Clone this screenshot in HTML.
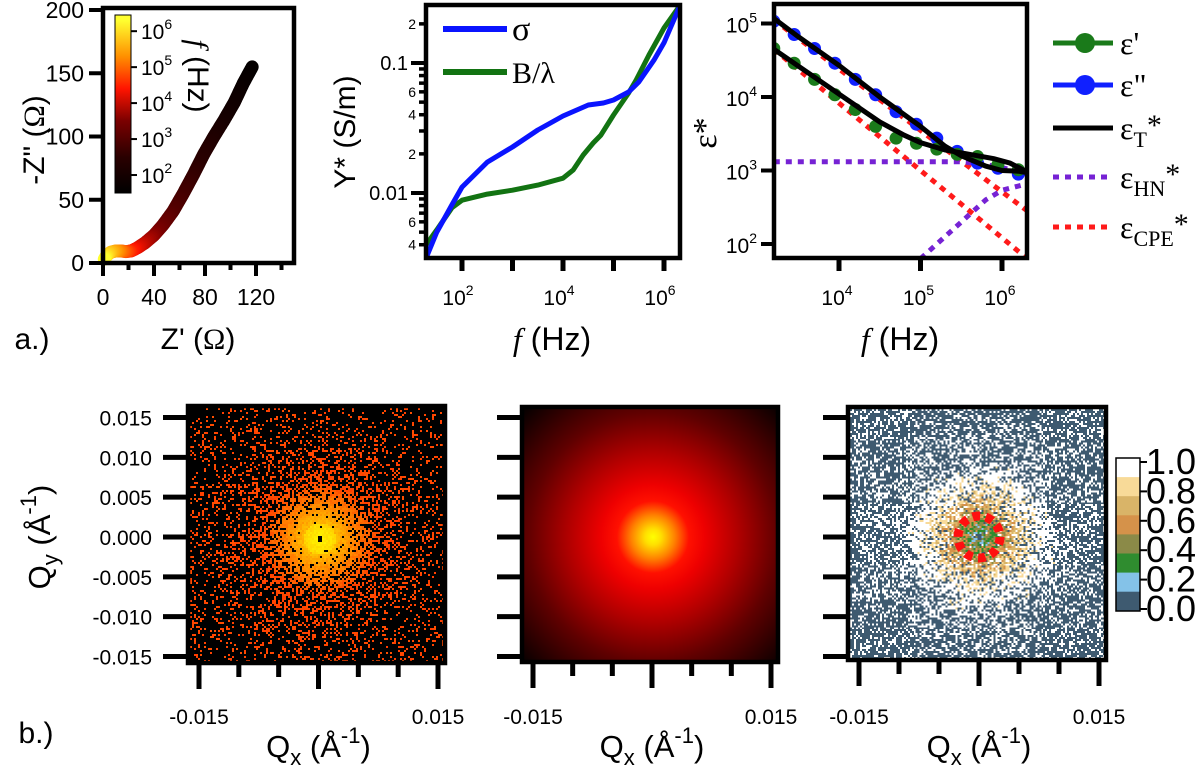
<!DOCTYPE html>
<html><head><meta charset="utf-8">
<style>
html,body{margin:0;padding:0;background:#fff;}
#wrap{position:relative;width:1200px;height:766px;overflow:hidden;background:#fff;}
svg{position:absolute;left:0;top:0;}
canvas{position:absolute;image-rendering:pixelated;}
#b2grad{position:absolute;left:524px;top:409px;width:253px;height:252px;
background:radial-gradient(circle at 129px 128px,#ffff00 0px,#ffe000 8px,#ff8000 22px,#ff1000 36px,#ee0000 52px,#b00000 85px,#600000 125px,#180000 170px,#000 185px);}
</style></head>
<body>
<div id="wrap">
<canvas id="b1c" width="127" height="127" style="left:190px;top:408px;width:254px;height:254px"></canvas>
<div id="b2grad"></div>
<canvas id="b3c" width="128" height="126" style="left:850px;top:409px;width:255px;height:250px"></canvas>
<svg id="fig" width="1200" height="766" viewBox="0 0 1200 766"></svg>
</div>
<script>
// ---------- DATA ----------
const nyqRe=[1,3,6,10,14,18,22,27,33,40,47,55,63,71,79,87,95,103,110,117];
const nyqIm=[3,6,8.5,9.5,9.5,9,9.5,12,16,22,30,41,55,70,86,100,113,127,142,155];
const nyqLogF=[6.3,6.0,5.7,5.4,5.1,4.8,4.5,4.2,3.9,3.6,3.3,3.0,2.8,2.6,2.4,2.2,2.0,1.85,1.7,1.6];
const nyqXTicks=[0,40,80,120];
const nyqYTicks=[0,50,100,150,200];
const cbarLabels=[6,5,4,3,2];

const sigmaLogF=[1.29,1.5,1.8,2.0,2.5,3.0,3.5,4.0,4.5,4.8,5.0,5.3,5.5,5.8,6.0,6.32];
const sigmaVal=[0.00316,0.0050,0.0081,0.0111,0.0173,0.0226,0.0305,0.0391,0.0475,0.0492,0.0519,0.0598,0.0714,0.105,0.143,0.279];
const bLogF=[1.29,1.5,1.8,2.0,2.5,3.0,3.5,4.0,4.2,4.4,4.6,4.75,5.0,5.3,5.45,5.7,6.0,6.32];
const bVal=[0.0040,0.0052,0.0077,0.0088,0.0098,0.0105,0.0115,0.0130,0.0150,0.0196,0.0243,0.0279,0.0398,0.0588,0.0740,0.115,0.186,0.279];
const yDecadeTicks=[-3,-2,-1];
const xDecadeTicks=[2,3,4,5,6];

const epsLogF=[3.2,3.45,3.7,3.95,4.2,4.45,4.7,4.95,5.2,5.45,5.7,5.95,6.2];
const eps2Log=[5.03,4.85,4.66,4.46,4.24,4.03,3.80,3.63,3.44,3.26,3.10,3.03,2.95];
const eps1Log=[4.66,4.46,4.24,4.03,3.83,3.60,3.44,3.37,3.29,3.22,3.19,3.08,3.01];
const fit2LogF=[3.2,3.5,4.0,4.5,5.0,5.3,5.5,5.8,6.0,6.2,6.31];
const fit2Log=[5.07,4.82,4.43,4.0,3.6,3.33,3.2,3.06,3.0,2.99,2.97];
const fit1LogF=[3.2,3.5,4.0,4.5,4.8,5.0,5.3,5.6,5.9,6.1,6.31];
const fit1Log=[4.65,4.42,4.04,3.66,3.48,3.38,3.28,3.22,3.16,3.1,2.98];
const hn1LogF=[3.2,5.5,5.8,6.0,6.31];
const hn1Log=[3.12,3.12,3.08,3.04,2.95];
const hn2LogF=[5.0,5.5,5.8,6.0,6.31];
const hn2Log=[1.8,2.3,2.6,2.73,2.82];
const cpe1LogF=[3.2,6.31];
const cpe1Log=[4.65,1.8];
const cpe2LogF=[3.2,6.31];
const cpe2Log=[5.05,2.45];
const epsYTicks=[2,3,4,5];
const epsXTicks=[4,5,6];

const qTicks=[-0.015,-0.010,-0.005,0.000,0.005,0.010,0.015];
const b1RadBins=[0,3,6,10,15,20,25,30,40,50,64,90];
const b1Density=[1,1,0.98,0.95,0.85,0.72,0.58,0.45,0.3,0.22,0.16,0.13];
const b3RadBins=[0,2,5,8,12,16,20,24,28,32,40,64,90];
const b3Colored=[0.3,0.9,0.95,0.92,0.85,0.7,0.55,0.35,0.15,0.05,0,0,0];
const b3White=[0,0.05,0.05,0.05,0.1,0.2,0.3,0.45,0.65,0.7,0.45,0.3,0.3];
const ratioBands=['#ffffff','#f8da98','#d9b468','#d5924a','#8b8a48','#2f8c2f','#84c2e8','#3e5a70'];
const ratioLabels=['1.0','0.8','0.6','0.4','0.2','0.0'];

// ---------- HELPERS ----------
const NS='http://www.w3.org/2000/svg';
const svg=document.getElementById('fig');
function mk(tag,a,parent){const e=document.createElementNS(NS,tag);for(const k in a)e.setAttribute(k,a[k]);(parent||svg).appendChild(e);return e;}
function txt(x,y,s,size,anchor,parent,family){const t=mk('text',{x:x,y:y,'font-size':size,'text-anchor':anchor||'middle','font-family':family||'Liberation Sans, sans-serif',fill:'#000'},parent);t.textContent=s;return t;}
function ts(t,s,attrs){const e=document.createElementNS(NS,'tspan');for(const k in attrs)e.setAttribute(k,attrs[k]);e.textContent=s;t.appendChild(e);return e;}
function interp(xs,ys,x){if(x<=xs[0])return ys[0];for(let i=1;i<xs.length;i++){if(x<=xs[i]){const f=(x-xs[i-1])/(xs[i]-xs[i-1]);return ys[i-1]+f*(ys[i]-ys[i-1]);}}return ys[ys.length-1];}
function hexToRgb(h){return [parseInt(h.substr(1,2),16),parseInt(h.substr(3,2),16),parseInt(h.substr(5,2),16)];}
function frame(x,y,w,h,name){const r=mk('rect',{x:x,y:y,width:w,height:h,fill:'none',stroke:'#000','stroke-width':4.5});return r;}
function line(x1,y1,x2,y2,w,name){const l=mk('line',{x1:x1,y1:y1,x2:x2,y2:y2,stroke:'#000','stroke-width':w});return l;}

// ---------- PANEL a1: Nyquist ----------
const nx=v=>103+v*51/40, ny=v=>263-v*1.265;
const cStops=[[1.5,'#000000'],[2.5,'#2a0000'],[3.5,'#7a0000'],[4.4,'#ff1400'],[5.3,'#ff9000'],[6.3,'#ffff30']];
function cmap(lf){for(let i=1;i<cStops.length;i++){if(lf<=cStops[i][0]||i==cStops.length-1){const a=hexToRgb(cStops[i-1][1]),b=hexToRgb(cStops[i][1]);let f=(lf-cStops[i-1][0])/(cStops[i][0]-cStops[i-1][0]);f=Math.max(0,Math.min(1,f));return 'rgb('+a.map((v,k)=>Math.round(v+f*(b[k]-v))).join(',')+')';}}}
const gA=mk('g',{});
const gCurve=mk('g',{},gA);
for(let i=nyqRe.length-1;i>0;i--){
  const x0=nx(nyqRe[i]),y0=ny(nyqIm[i]),x1=nx(nyqRe[i-1]),y1=ny(nyqIm[i-1]);
  const n=Math.max(2,Math.ceil(Math.hypot(x1-x0,y1-y0)/1.5));
  for(let k=0;k<n;k++){const f=k/n;const c=mk('circle',{cx:x0+(x1-x0)*f,cy:y0+(y1-y0)*f,r:6.5,fill:cmap(nyqLogF[i]+(nyqLogF[i-1]-nyqLogF[i])*f)},gCurve);}
}
{const c=mk('circle',{cx:nx(nyqRe[0]),cy:ny(nyqIm[0]),r:6.5,fill:cmap(nyqLogF[0])},gCurve);}
frame(103,8,191,255,'nyquist-frame');
nyqYTicks.forEach(v=>{line(89,ny(v),103,ny(v),4,'y-tick');const t=txt(84,ny(v)+8,String(v),23,'end',gA);});
for(let v=0;v<=140;v+=20){const major=v%40==0;line(nx(v),263,nx(v),major?276:270,4,'x-tick');}
nyqXTicks.forEach(v=>{const t=txt(nx(v),305,String(v),23,'middle',gA);});
{const t=txt(198,349,"Z' (",30,'middle',gA);ts(t,'Ω',{'font-family':'Liberation Serif, serif'});ts(t,')',{});}
{const t=txt(0,0,'-Z" (',30,'middle',gA);ts(t,'Ω',{'font-family':'Liberation Serif, serif'});ts(t,')',{});t.setAttribute('transform','translate(44,140) rotate(-90)');}
{const t=txt(32,349,'a.)',30,'middle',gA);}
// colorbar
const defs=mk('defs',{});
const lg=mk('linearGradient',{id:'cbg',x1:0,y1:1,x2:0,y2:0},defs);
const cbLo=1.5,cbHi=6.45;
cStops.forEach(s=>mk('stop',{offset:((s[0]-cbLo)/(cbHi-cbLo)).toFixed(3),'stop-color':s[1]},lg));
{const r=mk('rect',{x:115,y:15,width:16,height:178,fill:'url(#cbg)',stroke:'#000','stroke-width':1},gA);}
const cby=lf=>193-(lf-cbLo)/(cbHi-cbLo)*178;
cbarLabels.forEach(p=>{line(131,cby(p),137,cby(p),2,'colorbar-tick');const t=txt(141,cby(p)+8,'10',21,'start',gA);ts(t,String(p),{'font-size':14,dy:-10});});
{const t=txt(0,0,'',30,'middle',gA);ts(t,'f',{'font-style':'italic','font-family':'Liberation Serif, serif'});ts(t,' (Hz)',{});t.setAttribute('transform','translate(188,76) rotate(90)');}

// ---------- PANEL a2: Y* ----------
const px2=lf=>462+(lf-2)*50.5, py2=v=>193-(Math.log10(v)+2)*130;
const gB=mk('g',{});
const cp2=mk('clipPath',{id:'cp2'},defs);mk('rect',{x:426,y:5,width:254,height:253},cp2);
function pathD(xs,ys,fx,fy){return xs.map((x,i)=>(i?'L':'M')+fx(x).toFixed(1)+','+fy(ys[i]).toFixed(1)).join('');}
{const p=mk('path',{d:pathD(bLogF,bVal,px2,py2),fill:'none',stroke:'#127312','stroke-width':5,'stroke-linejoin':'round','clip-path':'url(#cp2)'},gB);}
{const p=mk('path',{d:pathD(sigmaLogF,sigmaVal,px2,py2),fill:'none',stroke:'#0a14ff','stroke-width':5,'stroke-linejoin':'round','clip-path':'url(#cp2)'},gB);}
frame(426,5,254,253,'admittance-frame');
yDecadeTicks.forEach(d=>{
  for(let m=1;m<=9;m++){const v=m*Math.pow(10,d);const y=py2(v);if(y<5||y>258)continue;
    line(m==1?411:419,y,426,y,m==1?4:3.5,'y-tick');
    let lab=null,sz=14;
    if(m==1){lab=(d==-1?'0.1':d==-2?'0.01':'');sz=20;}
    else if((m==2||m==4||m==6)){lab=String(m);}
    if(lab){const t=txt(m==1?408:416,y+(m==1?7:5),lab,sz,'end',gB);}
  }});
xDecadeTicks.forEach(d=>{line(px2(d),258,px2(d),271,5,'x-tick');if(d%2==0){const t=txt(px2(d)-4,305,'10',21,'middle',gB);ts(t,String(d),{'font-size':14,dy:-10});}});
{const t=txt(552,350,'',32,'middle',gB);ts(t,'f',{'font-style':'italic','font-family':'Liberation Serif, serif'});ts(t,' (Hz)',{});}
{const t=txt(0,0,'Y* (S/m)',30,'middle',gB);t.setAttribute('transform','translate(355,132) rotate(-90)');}
line(443,29,507,29,6,'legend-sigma-swatch').setAttribute('stroke','#0a14ff');
line(443,72,507,72,6,'legend-b-swatch').setAttribute('stroke','#127312');
{const t=txt(512,40,'σ',34,'start',gB,'Liberation Serif, serif');}
{const t=txt(512,83,'B/λ',30,'start',gB,'Liberation Serif, serif');}

// ---------- PANEL a3: permittivity ----------
const px3=lf=>839+(lf-4)*81.5, py3=l=>97-(l-4)*73.5;
const gC=mk('g',{});
const cp3=mk('clipPath',{id:'cp3'},defs);mk('rect',{x:774,y:4,width:253,height:254},cp3);
function dotted(xs,ys,col,name){const p=mk('path',{d:pathD(xs,ys,px3,py3),fill:'none',stroke:col,'stroke-width':5,'stroke-dasharray':'6 6','clip-path':'url(#cp3)'},gC);}
dotted(cpe1LogF,cpe1Log,'#ff1a1a','cpe-real-line');
dotted(cpe2LogF,cpe2Log,'#ff1a1a','cpe-imag-line');
dotted(hn1LogF,hn1Log,'#7622d4','hn-real-line');
dotted(hn2LogF,hn2Log,'#7622d4','hn-imag-line');
epsLogF.forEach((lf,i)=>{const c=mk('circle',{cx:px3(lf),cy:py3(eps2Log[i]),r:6.5,fill:'#1020ff','clip-path':'url(#cp3)'},gC);
 const c2=mk('circle',{cx:px3(lf),cy:py3(eps1Log[i]),r:6.5,fill:'#1a7a1a','clip-path':'url(#cp3)'},gC);});
{const p=mk('path',{d:pathD(fit2LogF,fit2Log,px3,py3),fill:'none',stroke:'#000','stroke-width':5,'clip-path':'url(#cp3)'},gC);}
{const p=mk('path',{d:pathD(fit1LogF,fit1Log,px3,py3),fill:'none',stroke:'#000','stroke-width':5,'clip-path':'url(#cp3)'},gC);}
frame(774,4,253,254,'permittivity-frame');
epsYTicks.forEach(d=>{line(761,py3(d),774,py3(d),4,'y-tick');const t=txt(757,py3(d)+9,'10',21,'end',gC);ts(t,String(d),{'font-size':14,dy:-10});});
epsXTicks.forEach(d=>{line(px3(d),258,px3(d),271,5,'x-tick');const t=txt(px3(d)-2,305,'10',21,'middle',gC);ts(t,String(d),{'font-size':14,dy:-10});});
{const t=txt(900,350,'',32,'middle',gC);ts(t,'f',{'font-style':'italic','font-family':'Liberation Serif, serif'});ts(t,' (Hz)',{});}
{const t=txt(0,0,'ε*',34,'middle',gC,'Liberation Serif, serif');t.setAttribute('transform','translate(716,133) rotate(-90)');}
// legend
const legY=[43,85,128,177,227];
function legLine(y,col,dash,name){const l=line(1053,y,1113,y,5,name);l.setAttribute('stroke',col);if(dash)l.setAttribute('stroke-dasharray','6 6');}
legLine(legY[0],'#1a7a1a',false,'legend-eps-real-swatch');{const c=mk('circle',{cx:1085,cy:legY[0],r:10,fill:'#1a7a1a'},gC);}
legLine(legY[1],'#1020ff',false,'legend-eps-imag-swatch');{const c=mk('circle',{cx:1085,cy:legY[1],r:10,fill:'#1020ff'},gC);}
legLine(legY[2],'#000',false,'legend-fit-swatch');
legLine(legY[3],'#7622d4',true,'legend-hn-swatch');
legLine(legY[4],'#ff1a1a',true,'legend-cpe-swatch');
const SF='Liberation Serif, serif';
{const t=txt(1120,legY[0]+11,"ε'",32,'start',gC,SF);}
{const t=txt(1120,legY[1]+11,'ε"',32,'start',gC,SF);}
function subStar(y,sub,name){const t=txt(1120,y+11,'ε',32,'start',gC,SF);ts(t,sub,{'font-size':22,dy:8});ts(t,'*',{dy:-12,'font-size':30});}
subStar(legY[2],'T','legend-fit-label');
subStar(legY[3],'HN','legend-hn-label');
subStar(legY[4],'CPE','legend-cpe-label');

// ---------- BOTTOM ROW ----------
const panelsB=[{x:188,top:406,w:257,h:257,ticksLabels:true,name:'scattering-data'},{x:522,top:407,w:256,h:255,ticksLabels:false,name:'scattering-model'},{x:848,top:407,w:258,h:253,ticksLabels:false,name:'scattering-ratio'}];
panelsB.forEach((P,pi)=>{
  const g=mk('g',{});
  frame(P.x,P.top,P.w,P.h,P.name+'-frame');
  const qy=v=>537-v/0.015*119.5;
  qTicks.forEach(v=>{line(P.x-25,qy(v),P.x,qy(v),5,'y-tick');
    if(P.ticksLabels){const t=txt(P.x-36,qy(v)+8,v.toFixed(3),21,'end',g);}});
  const x0=P.x+11,x1=P.x+P.w-7;
  qTicks.forEach((v,i)=>{const x=x0+(x1-x0)*i/(qTicks.length-1);const major=(i%3==0);line(x,P.top+P.h,x,P.top+P.h+(major?26:14),5,'x-tick');
    if(i==0||i==6){const t=txt(x,724,v.toFixed(3),21,'middle',g);}});
  const cx=(x0+x1)/2;
  {const t=txt(cx,757,'Q',31,'middle',g);ts(t,'x',{'font-size':22,dy:8});ts(t,' (Å',{dy:-8});ts(t,'-1',{'font-size':22,dy:-14});ts(t,')',{dy:14});}
});
{const t=txt(0,0,'Q',31,'middle');ts(t,'y',{'font-size':22,dy:8});ts(t,' (Å',{dy:-8});ts(t,'-1',{'font-size':22,dy:-14});ts(t,')',{dy:14});t.setAttribute('transform','translate(50,537) rotate(-90)');}
{const t=txt(36,743,'b.)',30,'middle');}
// ratio colorbar
ratioBands.forEach((c,i)=>{const r=mk('rect',{x:1116,y:458+i*19.1,width:24,height:19.6,fill:c});});
{const r=mk('rect',{x:1116,y:458,width:24,height:153,fill:'none',stroke:'#000','stroke-width':1.5});}
ratioLabels.forEach((s,i)=>{const y=462+i*29.4;line(1140,y,1147,y,2,'colorbar-tick');const t=txt(1146,y+12,s,36,'start');});
// red dotted ring
{const c=mk('circle',{cx:979,cy:537,r:21,fill:'none',stroke:'#ff1010','stroke-width':9,'stroke-dasharray':'7.5 5.7'});}

// ---------- heatmap speckle (deterministic hash) ----------
function hash(i,j,k){let h=(i*374761393+j*668265263+k*2147483647)|0;h=(h^(h>>>13))*1274126177|0;h=h^(h>>>16);return ((h>>>0)%100000)/100000;}
(function(){
  const cv=document.getElementById('b1c'),ctx=cv.getContext('2d');const W=127,H=127,cx=64.5,cy=65;
  const im=ctx.createImageData(W,H);
  for(let j=0;j<H;j++)for(let i=0;i<W;i++){
    const r=Math.hypot(i-cx,j-cy);const p=interp(b1RadBins,b1Density,r);let c=[0,0,0];
    if(r>=1.2&&hash(i,j,1)<p){
      const h2=hash(i,j,2);
      if(r<8)c=[255,Math.round(235-r*4+h2*20),0];
      else if(r<16)c=[255,Math.round(200-(r-8)*6-h2*30),0];
      else if(r<28)c=[255,Math.round(150-(r-16)*5-h2*30),0];
      else c=[255,Math.round(80-h2*20),0];
    }
    const o=(j*W+i)*4;im.data[o]=c[0];im.data[o+1]=c[1];im.data[o+2]=c[2];im.data[o+3]=255;}
  ctx.putImageData(im,0,0);
})();
(function(){
  const cv=document.getElementById('b3c'),ctx=cv.getContext('2d');const W=128,H=126,cx=64.5,cy=64;
  const im=ctx.createImageData(W,H);const bg=hexToRgb(ratioBands[7]);
  const inner=[ratioBands[6],ratioBands[5],ratioBands[4],ratioBands[3],ratioBands[2],ratioBands[1]].map(hexToRgb);
  for(let j=0;j<H;j++)for(let i=0;i<W;i++){
    const r=Math.hypot(i-cx,j-cy);let c=bg;const h=hash(i,j,3);
    const pc=interp(b3RadBins,b3Colored,r),pw=interp(b3RadBins,b3White,r);
    if(r<1.5)c=bg;
    else if(h<pc){const k=Math.min(5,Math.max(0,Math.floor(hash(i,j,4)*3+r/5-0.5)));c=inner[k];}
    else if(h<pc+pw)c=[255,255,255];
    const o=(j*W+i)*4;im.data[o]=c[0];im.data[o+1]=c[1];im.data[o+2]=c[2];im.data[o+3]=255;}
  ctx.putImageData(im,0,0);
})();
</script>
</body></html>
